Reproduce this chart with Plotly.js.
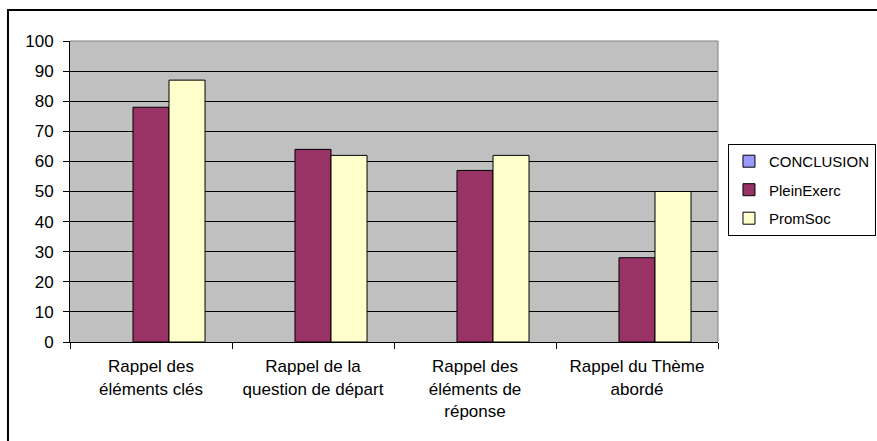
<!DOCTYPE html>
<html>
<head>
<meta charset="utf-8">
<script src="https://cdn.plot.ly/plotly-3.0.1.min.js"></script>
<style>
html,body{margin:0;padding:0;background:#fff;}
#chart{width:877px;height:441px;}
</style>
</head>
<body>
<div id="chart"></div>
<script>
const categories = ["Rappel des<br>éléments clés", "Rappel de la<br>question de départ", "Rappel des<br>éléments de<br>réponse", "Rappel du Thème<br>abordé"];
const seriesNames = ["CONCLUSION", "PleinExerc", "PromSoc"];
const conclusion = [null, null, null, null];
const pleinExerc = [78, 64, 57, 28];
const promSoc = [87, 62, 62, 50];
const yTicks = [0, 10, 20, 30, 40, 50, 60, 70, 80, 90, 100];
const colors = ["#9999FF", "#993366", "#FFFFCC"];

const allSeries = [conclusion, pleinExerc, promSoc];
const traces = allSeries.map((vals, i) => ({
  type: "bar",
  name: seriesNames[i],
  legendgroup: "g" + i,
  x: categories,
  y: vals,
  marker: {color: colors[i], line: {color: "#000", width: 1}},
  hoverinfo: "none"
}));

const font = {family: "Liberation Sans, Arial, sans-serif", size: 17, color: "#000"};
const legendFont = {family: "Liberation Sans, Arial, sans-serif", size: 15, color: "#000"};

const layout = {
  width: 877, height: 441,
  margin: {l: 70, r: 159, t: 41, b: 99, pad: 0, autoexpand: false},
  paper_bgcolor: "#fff",
  plot_bgcolor: "#C0C0C0",
  font: font,
  barmode: "group",
  bargap: 0.333,
  bargroupgap: 0,
  showlegend: true,
  legend: {
    x: 1.0154, y: 0.658, xanchor: "left", yanchor: "top",
    bgcolor: "#fff", bordercolor: "#000", borderwidth: 1,
    font: legendFont, traceorder: "grouped", tracegroupgap: 6, itemwidth: 30
  },
  xaxis: {
    type: "category",
    showgrid: false,
    showline: true, linecolor: "#000", linewidth: 1,
    ticks: "outside", tickson: "boundaries", ticklen: 6, tickcolor: "#000",
    ticklabelstandoff: 9,
    tickfont: font, fixedrange: true, automargin: false
  },
  yaxis: {
    range: [0, 100],
    tickvals: yTicks,
    ticktext: yTicks.map(String),
    showgrid: true, gridcolor: "#000", gridwidth: 1,
    zeroline: false,
    showline: true, linecolor: "#000", linewidth: 1,
    ticks: "outside", ticklen: 6, tickcolor: "#000",
    ticklabelstandoff: 6,
    tickfont: font, fixedrange: true, automargin: false
  },
  shapes: [
    {type: "line", xref: "paper", yref: "paper", x0: 0, x1: 1, y0: 1, y1: 1,
     line: {color: "#808080", width: 1}, layer: "above"},
    {type: "line", xref: "paper", yref: "paper", x0: 1, x1: 1, y0: 0, y1: 1,
     line: {color: "#808080", width: 1}, layer: "above"},
    {type: "rect", xref: "paper", yref: "paper", x0: -0.0957, x1: 1.5, y0: -0.5, y1: 1.103,
     line: {color: "#000", width: 2}, layer: "below", fillcolor: "rgba(0,0,0,0)"}
  ]
};

Plotly.newPlot("chart", traces, layout, {displayModeBar: false, staticPlot: true});
</script>
</body>
</html>
